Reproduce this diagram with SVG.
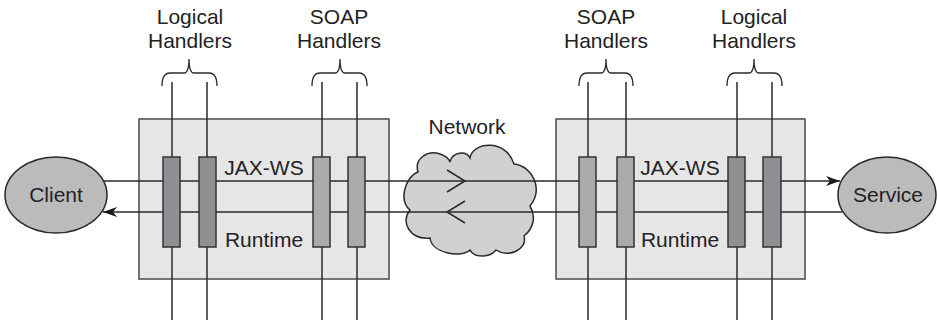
<svg xmlns="http://www.w3.org/2000/svg" width="937" height="323" viewBox="0 0 937 323">
<style>
text{font-family:"Liberation Sans",Arial,Helvetica,sans-serif;font-size:21px;fill:#222;text-anchor:middle}
.box{fill:#e6e6e7;stroke:#4a4a4a;stroke-width:1.5}
.ln{stroke:#2a2a2a;stroke-width:1.5;fill:none}
.br{stroke:#2a2a2a;stroke-width:1.3;fill:none}
.lg{fill:#8f9093;stroke:#333;stroke-width:1.5}
.sp{fill:#a9aaac;stroke:#333;stroke-width:1.5}
.el{fill:#bbbbbc;stroke:#2a2a2a;stroke-width:1.5}
</style>
<defs>
<marker id="ah" viewBox="0 0 14 10" refX="14" refY="5" markerWidth="14" markerHeight="10" markerUnits="userSpaceOnUse" orient="auto">
<path d="M0,0 L14,5 L0,10 L4,5 Z" fill="#1a1a1a"/>
</marker>
</defs>
<g id="runtime-client">
<rect class="box" x="139" y="119" width="250" height="160"/>
<text x="264" y="175">JAX-WS</text>
<text x="264" y="247">Runtime</text>
</g>
<g id="runtime-service">
<rect class="box" x="556" y="119" width="249" height="160"/>
<text x="680" y="175">JAX-WS</text>
<text x="680" y="247">Runtime</text>
</g>
<g id="network">
<path d="M418,172 C414,158 428,150 440,154 C446,156 449,158 450,162 C452,152 466,150 470,158 C472,142 506,138 514,164 C532,166 544,188 530,206 C536,216 534,228 524,236 C528,250 508,258 496,250 C490,258 474,258 470,250 C462,258 432,254 430,238 C410,240 400,222 410,210 C398,200 406,176 418,172 Z" fill="#d1d1d2" stroke="#2a2a2a" stroke-width="1.5"/>
<text x="467" y="134">Network</text>
</g>
<g id="connectors">
<line class="ln" x1="172" y1="82" x2="172" y2="320"/>
<line class="ln" x1="207" y1="82" x2="207" y2="320"/>
<line class="ln" x1="322" y1="82" x2="322" y2="320"/>
<line class="ln" x1="357" y1="82" x2="357" y2="320"/>
<line class="ln" x1="588" y1="82" x2="588" y2="320"/>
<line class="ln" x1="626" y1="82" x2="626" y2="320"/>
<line class="ln" x1="737" y1="82" x2="737" y2="320"/>
<line class="ln" x1="772" y1="82" x2="772" y2="320"/>
<line class="ln" x1="103" y1="181" x2="840" y2="181" marker-end="url(#ah)"/>
<line class="ln" x1="842" y1="212" x2="103" y2="212" marker-end="url(#ah)"/>
<polyline class="ln" points="447,170 465,181 447,192"/>
<polyline class="ln" points="465,201 447,212 465,223"/>
</g>
<g id="logical-client">
<rect class="lg" x="163" y="157" width="17" height="90"/>
<rect class="lg" x="199" y="157" width="17" height="90"/>
<path class="br" d="M162,86 Q162,73 170,73 L184,73 Q189,73 189,59 Q189,73 194,73 L209,73 Q217,73 217,86"/>
<text x="190" y="24">Logical</text>
<text x="190" y="48">Handlers</text>
</g>
<g id="soap-client">
<rect class="sp" x="313" y="157" width="17" height="90"/>
<rect class="sp" x="348" y="157" width="17" height="90"/>
<path class="br" d="M312,86 Q312,73 320,73 L335,73 Q340,73 340,59 Q340,73 345,73 L359,73 Q367,73 367,86"/>
<text x="339" y="24">SOAP</text>
<text x="339" y="48">Handlers</text>
</g>
<g id="soap-service">
<rect class="sp" x="579" y="157" width="17" height="90"/>
<rect class="sp" x="617" y="157" width="17" height="90"/>
<path class="br" d="M579,86 Q579,73 587,73 L601,73 Q606,73 606,59 Q606,73 611,73 L625,73 Q633,73 633,86"/>
<text x="606" y="24">SOAP</text>
<text x="606" y="48">Handlers</text>
</g>
<g id="logical-service">
<rect class="lg" x="728" y="157" width="17" height="90"/>
<rect class="lg" x="763" y="157" width="18" height="90"/>
<path class="br" d="M727,86 Q727,73 735,73 L749,73 Q754,73 754,59 Q754,73 759,73 L774,73 Q782,73 782,86"/>
<text x="754" y="24">Logical</text>
<text x="754" y="48">Handlers</text>
</g>
<g id="client">
<ellipse class="el" cx="56" cy="195" rx="51" ry="38"/>
<text x="56" y="202">Client</text>
</g>
<g id="service">
<ellipse class="el" cx="887" cy="195" rx="49" ry="38"/>
<text x="888" y="202">Service</text>
</g>
</svg>
